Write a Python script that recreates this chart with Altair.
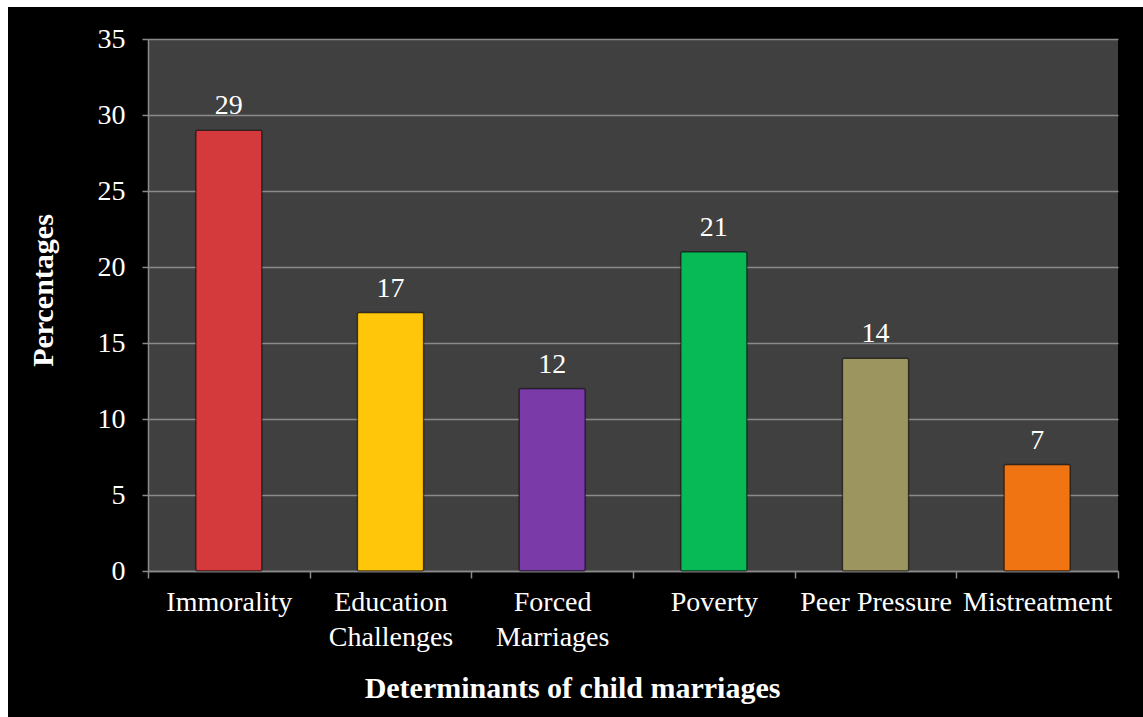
import altair as alt
import pandas as pd

categories = ["Immorality", "Education Challenges", "Forced Marriages", "Poverty", "Peer Pressure", "Mistreatment"]
values = [29, 17, 12, 21, 14, 7]
colors = ["#D43A3C", "#FFC60A", "#7A3AA8", "#07BA55", "#9D955F", "#F07412"]
y_ticks = [0, 5, 10, 15, 20, 25, 30, 35]

df = pd.DataFrame({"cat": categories, "val": values, "col": colors})

label_expr = ("datum.value == 'Education Challenges' ? ['Education', 'Challenges'] : "
              "datum.value == 'Forced Marriages' ? ['Forced', 'Marriages'] : datum.value")

x_enc = alt.X("cat:N", sort=categories,
              scale=alt.Scale(paddingInner=0, paddingOuter=0),
              axis=alt.Axis(title="Determinants of child marriages", labelAngle=0,
                            labelExpr=label_expr, tickBand="extent",
                            labelFont="Liberation Serif", labelFontSize=28, labelColor="white",
                            labelPadding=10, labelLineHeight=35,
                            titleFont="Liberation Serif", titleFontSize=30, titleFontWeight="bold",
                            titleColor="white", titleX=424, titleY=117, titleBaseline="middle",
                            titleAlign="center",
                            domainColor="#8a8a8a", domainWidth=1.5, tickColor="#8a8a8a",
                            tickWidth=1.5, tickSize=7, grid=False))
y_enc = alt.Y("val:Q", scale=alt.Scale(domain=[0, 35]),
              axis=alt.Axis(title="Percentages", values=y_ticks,
                            labelFont="Liberation Serif", labelFontSize=28, labelColor="white",
                            labelPadding=17,
                            titleFont="Liberation Serif", titleFontSize=30, titleFontWeight="bold",
                            titleColor="white", titleAngle=270, titleX=-105, titleY=251,
                            titleAlign="center", titleBaseline="middle",
                            domainColor="#8a8a8a", domainWidth=1.5, tickColor="#8a8a8a",
                            tickWidth=1.5, tickSize=6,
                            grid=True, gridColor="#8a8a8a", gridWidth=1.5))

base = alt.Chart(df).encode(x=x_enc, y=y_enc)

bars = base.mark_bar(width=alt.RelativeBandSize(0.41), stroke="#00000066",
                     strokeWidth=1.5, cornerRadius=2).encode(
    color=alt.Color("col:N", scale=None),
)

texts = base.mark_text(font="Liberation Serif", fontSize=28, color="white",
                       dy=-16, baseline="alphabetic").encode(
    text=alt.Text("val:Q"),
)

# white picture frame at the top and left edges of the figure
frame_df = pd.DataFrame({"k": [0]})
frame_top = alt.Chart(frame_df).mark_rect(color="white").encode(
    x=alt.value(-148), x2=alt.value(995), y=alt.value(-39), y2=alt.value(-32))
frame_left = alt.Chart(frame_df).mark_rect(color="white").encode(
    x=alt.value(-148), x2=alt.value(-140), y=alt.value(-39), y2=alt.value(678))

chart = alt.layer(bars, texts, frame_top, frame_left).properties(
    width=970, height=532,
    background="black",
    padding={"left": 148, "top": 39, "right": 25, "bottom": 146},
    autosize=alt.AutoSizeParams(type="none"),
).configure_view(fill="#404040", stroke=None)

chart.save("out.html", embed_options={"renderer": "svg", "actions": False})
